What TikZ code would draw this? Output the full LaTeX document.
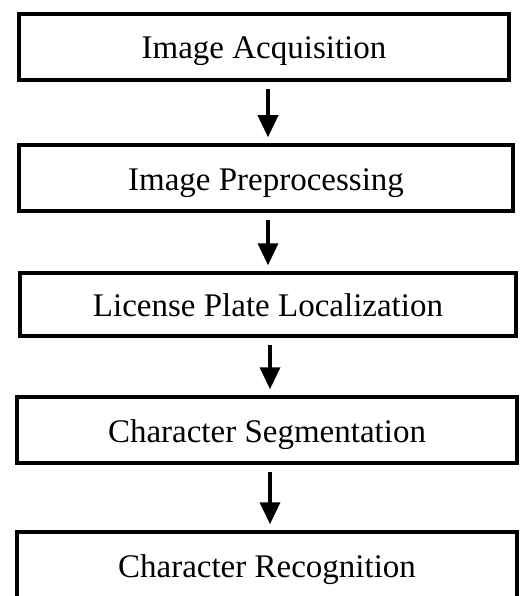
\documentclass[tikz,border=0pt]{standalone}
\usepackage{fontspec}
\setmainfont{Liberation Serif}
\usetikzlibrary{arrows.meta}
\begin{document}
\begin{tikzpicture}[x=1pt,y=-1pt,
  stagebox/.style={draw=black, line width=3.5pt, fill=white, inner sep=0pt,
    text height=30pt, text depth=6pt,
    font=\fontsize{33}{40}\selectfont, text=black},
  flowarrow/.style={draw=black, line width=3.5pt,
    -{Triangle[length=22pt,width=20pt]}, shorten <=7pt, shorten >=6pt}]
  \path[clip] (0,0) rectangle (519,596);
  \fill[white] (0,0) rectangle (519,596);
  \node[stagebox, minimum width=490pt, minimum height=66pt] (b1) at (264,47) {Image Acquisition};
  \node[stagebox, minimum width=494pt, minimum height=66pt] (b2) at (266,178) {Image Preprocessing};
  \node[stagebox, minimum width=496pt, minimum height=63pt] (b3) at (268,304.5) {License Plate Localization};
  \node[stagebox, minimum width=500pt, minimum height=66pt] (b4) at (267,430) {Character Segmentation};
  \node[stagebox, minimum width=500pt, minimum height=66pt] (b5) at (267,565) {Character Recognition};
  \draw[flowarrow] ([xshift=4pt]b1.south) -- ([xshift=2pt]b2.north);
  \draw[flowarrow] ([xshift=2pt]b2.south) -- ([xshift=0pt]b3.north);
  \draw[flowarrow] ([xshift=2pt]b3.south) -- ([xshift=3pt]b4.north);
  \draw[flowarrow] ([xshift=3pt]b4.south) -- ([xshift=3pt]b5.north);
\end{tikzpicture}
\end{document}
